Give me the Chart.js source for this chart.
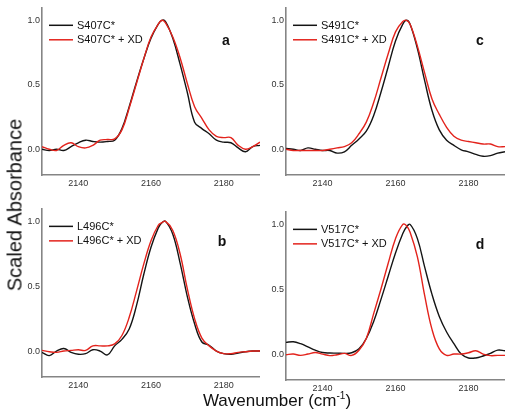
<!DOCTYPE html>
<html>
<head>
  <script src="https://cdn.jsdelivr.net/npm/chart.js@4.4.1/dist/chart.umd.min.js"></script>
  <style>
    body {
      margin: 0;
      padding: 0;
      background: #fff;
      overflow: hidden;
      font-family: "Liberation Sans", Arial, sans-serif;
    }
    .wrap {
      position: relative;
      width: 505px;
      height: 409px;
    }
    .panel {
      position: absolute;
    }
    .ylab {
      position: absolute;
      left: 15px;
      top: 205px;
      transform: translate(-50%, -50%) rotate(-90deg);
      font-size: 20px;
      white-space: nowrap;
      color: #111;
    }
    .xlab {
      position: absolute;
      left: 277px;
      top: 390px;
      transform: translateX(-50%);
      font-size: 17px;
      white-space: nowrap;
      color: #111;
    }
    .xlab sup {
      font-size: 10px;
    }
  </style>
</head>
<body>
  <div class="wrap">
    <div class="panel" style="left:20px;top:0px;width:240px;height:190px"><canvas id="pa"></canvas></div>
    <div class="panel" style="left:264px;top:0px;width:241px;height:190px"><canvas id="pc"></canvas></div>
    <div class="panel" style="left:20px;top:201px;width:240px;height:191px"><canvas id="pb"></canvas></div>
    <div class="panel" style="left:264px;top:204px;width:241px;height:191px"><canvas id="pd"></canvas></div>
    <div class="ylab">Scaled Absorbance</div>
    <div class="xlab">Wavenumber (cm<sup>-1</sup>)</div>
  </div>

  <script>
    // wavenumber grid shared by every trace
    const wavenumbers = [2130, 2132, 2134, 2136, 2138, 2140, 2142, 2144, 2146, 2148, 2150, 2152, 2154, 2156, 2158, 2160, 2162, 2163,
                         2164, 2166, 2168, 2170, 2172, 2174, 2176, 2178, 2180, 2182, 2184, 2186, 2188, 2190];
    const xTicks = [2140, 2160, 2180];
    const yTicks = [0, 0.5, 1.0];

    // panel a
    const s407 = [0.00, -0.01, 0.00, -0.01, 0.02, 0.05, 0.07, 0.06, 0.055, 0.06, 0.07, 0.16, 0.33, 0.52, 0.70, 0.86, 0.97, 1.0,
                  0.99, 0.86, 0.66, 0.44, 0.21, 0.16, 0.12, 0.07, 0.055, 0.05, 0.01, -0.02, 0.02, 0.03];
    const s407xd = [0.02, 0.00, -0.01, 0.03, 0.05, 0.02, 0.01, 0.03, 0.07, 0.075, 0.08, 0.15, 0.32, 0.51, 0.70, 0.87, 0.97, 1.0,
                    0.98, 0.87, 0.71, 0.51, 0.33, 0.24, 0.15, 0.10, 0.09, 0.09, 0.03, 0.00, 0.02, 0.055];
    // panel b
    const l496 = [-0.01, -0.035, 0.00, 0.02, -0.01, -0.025, -0.02, 0.01, 0.00, -0.03, 0.04, 0.09, 0.17, 0.35, 0.59, 0.80, 0.95, 0.99,
                  1.0, 0.90, 0.68, 0.42, 0.21, 0.07, 0.045, 0.00, -0.02, -0.025, -0.015, -0.005, 0.00, 0.00];
    const l496xd = [0.005, -0.005, -0.01, 0.00, 0.005, 0.01, 0.005, 0.04, 0.04, 0.04, 0.055, 0.12, 0.26, 0.46, 0.67, 0.85, 0.97, 0.99,
                    1.0, 0.93, 0.75, 0.48, 0.25, 0.10, 0.04, 0.00, -0.02, -0.02, -0.01, -0.005, 0.00, 0.00];
    // panel c
    const s491 = [0.005, 0.00, -0.01, 0.01, 0.00, -0.01, -0.01, -0.03, -0.02, 0.03, 0.08, 0.14, 0.26, 0.44, 0.64, 0.84, 0.97, 1.0,
                  0.97, 0.78, 0.53, 0.30, 0.15, 0.07, 0.03, -0.005, -0.02, -0.04, -0.055, -0.05, -0.03, -0.02];
    const s491xd = [0.00, -0.01, -0.01, -0.01, -0.01, -0.01, 0.00, 0.01, 0.02, 0.05, 0.12, 0.21, 0.36, 0.55, 0.74, 0.91, 0.99, 1.0,
                    0.97, 0.80, 0.59, 0.39, 0.27, 0.17, 0.10, 0.07, 0.06, 0.05, 0.04, 0.04, 0.02, 0.02];
    // panel d
    const v517 = [0.09, 0.095, 0.08, 0.055, 0.03, 0.012, 0.008, 0.007, 0.005, 0.01, 0.04, 0.12, 0.25, 0.42, 0.60, 0.78, 0.93, 0.98,
                  1.0, 0.89, 0.67, 0.46, 0.29, 0.17, 0.08, 0.00, -0.03, -0.03, -0.015, 0.005, 0.03, 0.025];
    const v517xd = [-0.005, 0.00, -0.01, 0.00, 0.012, 0.00, -0.012, -0.005, 0.005, -0.01, 0.03, 0.12, 0.31, 0.50, 0.70, 0.89, 1.0, 0.99,
                    0.94, 0.75, 0.45, 0.19, 0.04, -0.01, 0.00, 0.00, 0.01, 0.025, 0.00, -0.012, -0.01, -0.01];

    const FONT = '"Liberation Sans", Arial, sans-serif';
    const AXIS = '#858585';

    // draws the in-plot legend and the panel letter
    const panelDecor = {
      id: 'panelDecor',
      afterDraw(chart, args, opts) {
        const ctx = chart.ctx;
        const area = chart.chartArea;
        const y1 = chart.scales.y.getPixelForValue(1);
        ctx.save();
        chart.data.datasets.forEach((ds, i) => {
          const y = y1 + 5 + i * 14.5;
          ctx.strokeStyle = ds.borderColor;
          ctx.lineWidth = 1.5;
          ctx.beginPath();
          ctx.moveTo(area.left + 7, y);
          ctx.lineTo(area.left + 31, y);
          ctx.stroke();
          ctx.fillStyle = '#111';
          ctx.font = '11px ' + FONT;
          ctx.textBaseline = 'middle';
          ctx.textAlign = 'left';
          ctx.fillText(ds.label, area.left + 35, y + 0.5);
        });
        ctx.font = 'bold 14px ' + FONT;
        ctx.textAlign = 'center';
        ctx.textBaseline = 'middle';
        ctx.fillStyle = '#111';
        ctx.fillText(opts.letter, area.right - opts.letterRight, y1 + 21);
        ctx.restore();
      }
    };

    function makePanel(id, letter, letterRight, name, black, red) {
      const toPts = arr => arr.map((v, i) => ({ x: wavenumbers[i], y: v }));
      new Chart(document.getElementById(id), {
        type: 'line',
        data: {
          datasets: [
            { label: name, data: toPts(black), borderColor: '#141414', order: 1 },
            { label: name + ' + XD', data: toPts(red), borderColor: '#e3231c', order: 0 }
          ]
        },
        options: {
          responsive: true,
          maintainAspectRatio: false,
          animation: false,
          layout: { padding: { top: 2, right: 0, left: 0, bottom: 0 } },
          elements: {
            point: { radius: 0 },
            line: { borderWidth: 1.4, tension: 0.4, fill: false }
          },
          plugins: {
            legend: { display: false },
            tooltip: { enabled: false },
            panelDecor: { letter: letter, letterRight: letterRight }
          },
          scales: {
            x: {
              type: 'linear',
              min: 2130,
              max: 2190,
              grid: { display: false, drawTicks: false },
              border: { display: true, color: AXIS, width: 1.6 },
              afterBuildTicks: s => { s.ticks = xTicks.map(v => ({ value: v })); },
              afterFit: s => { s.height = 15; },
              ticks: {
                color: '#333',
                padding: 3,
                font: { size: 9, family: FONT },
                maxRotation: 0,
                callback: v => String(v)
              }
            },
            y: {
              min: -0.2,
              max: 1.1,
              grid: { display: false, drawTicks: false },
              border: { display: true, color: AXIS, width: 1.6 },
              afterBuildTicks: s => { s.ticks = yTicks.map(v => ({ value: v })); },
              afterFit: s => { s.width = 22; },
              ticks: {
                color: '#333',
                padding: 2,
                font: { size: 9, family: FONT },
                callback: v => Number(v).toFixed(1)
              }
            }
          }
        },
        plugins: [panelDecor]
      });
    }

    makePanel('pa', 'a', 34, 'S407C*', s407, s407xd);
    makePanel('pc', 'c', 25, 'S491C*', s491, s491xd);
    makePanel('pb', 'b', 38, 'L496C*', l496, l496xd);
    makePanel('pd', 'd', 25, 'V517C*', v517, v517xd);
  </script>
</body>
</html>
